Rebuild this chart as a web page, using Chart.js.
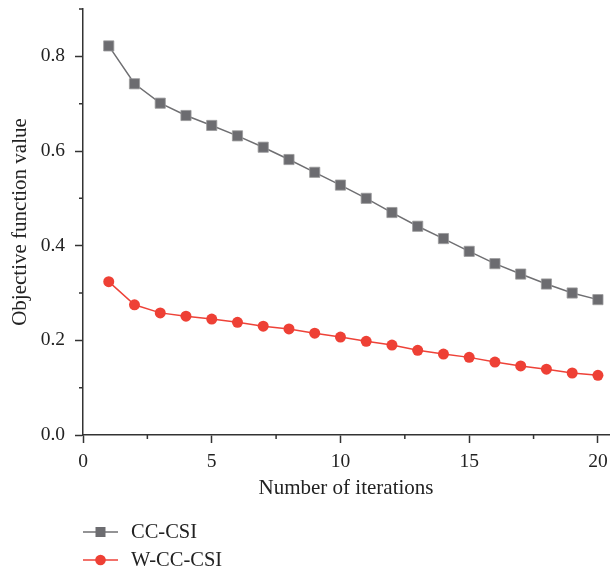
<!DOCTYPE html>
<html>
<head>
<meta charset="utf-8">
<script src="https://cdn.jsdelivr.net/npm/chart.js@4/dist/chart.umd.min.js"></script>
<style>
  html, body { margin: 0; padding: 0; background: #fff; }
  #wrap { width: 610px; height: 569px; }
</style>
</head>
<body>
<div id="wrap"><canvas id="chart"></canvas></div>
<script>
// data
const iterations = [1, 2, 3, 4, 5, 6, 7, 8, 9, 10, 11, 12, 13, 14, 15, 16, 17, 18, 19, 20];
const ccCsi = [0.822, 0.742, 0.701, 0.675, 0.654, 0.632, 0.608, 0.582, 0.555, 0.528,
               0.500, 0.470, 0.441, 0.415, 0.388, 0.362, 0.340, 0.319, 0.300, 0.286];
const wCcCsi = [0.324, 0.275, 0.258, 0.251, 0.245, 0.238, 0.230, 0.224, 0.215, 0.207,
                0.198, 0.190, 0.179, 0.171, 0.164, 0.154, 0.146, 0.139, 0.131, 0.126];
const seriesNames = ['CC-CSI', 'W-CC-CSI'];
const xMinorTicks = [2.5, 7.5, 12.5, 17.5];
const yMinorTicks = [0.1, 0.3, 0.5, 0.7, 0.9];

const FONT = "'Liberation Serif', 'DejaVu Serif', serif";
const AXIS = '#333';

function toPoints(ys) {
  return iterations.map((x, i) => ({ x: x, y: ys[i] }));
}

// small outward ticks between the labelled ones
const minorTicks = {
  id: 'minorTicks',
  afterDraw(chart) {
    const { ctx, scales: { x, y } } = chart;
    ctx.save();
    ctx.strokeStyle = AXIS;
    ctx.lineWidth = 1.5;
    ctx.beginPath();
    xMinorTicks.forEach(v => {
      const px = x.getPixelForValue(v);
      ctx.moveTo(px, x.top);
      ctx.lineTo(px, x.top + 4);
    });
    yMinorTicks.forEach(v => {
      const py = y.getPixelForValue(v);
      ctx.moveTo(y.right, py);
      ctx.lineTo(y.right - 4, py);
    });
    ctx.stroke();
    ctx.restore();
  }
};

// legend stacked in the bottom left corner
const stackedLegend = {
  id: 'stackedLegend',
  afterDraw(chart) {
    const ctx = chart.ctx;
    const rows = [532, 560];
    ctx.save();
    chart.data.datasets.forEach((ds, i) => {
      const cy = rows[i];
      ctx.strokeStyle = ds.borderColor;
      ctx.lineWidth = ds.borderWidth;
      ctx.beginPath();
      ctx.moveTo(83, cy);
      ctx.lineTo(118, cy);
      ctx.stroke();
      ctx.fillStyle = ds.pointBackgroundColor;
      ctx.beginPath();
      if (ds.pointStyle === 'rect') {
        ctx.rect(100.5 - 5, cy - 5, 10, 10);
      } else {
        ctx.arc(100.5, cy, 5.3, 0, Math.PI * 2);
      }
      ctx.fill();
      ctx.fillStyle = '#222';
      ctx.font = '20.5px ' + FONT;
      ctx.textBaseline = 'middle';
      ctx.fillText(ds.label, 131, cy + 1);
    });
    ctx.restore();
  }
};

const ctx = document.getElementById('chart').getContext('2d');
new Chart(ctx, {
  type: 'line',
  data: {
    datasets: [
      {
        label: seriesNames[0],
        data: toPoints(ccCsi),
        borderColor: '#6f6f72',
        borderWidth: 1.5,
        pointStyle: 'rect',
        pointRadius: 7.2,
        pointBackgroundColor: '#6c6c70',
        pointBorderColor: '#9a9a9c',
        pointBorderWidth: 0.8,
        tension: 0
      },
      {
        label: seriesNames[1],
        data: toPoints(wCcCsi),
        borderColor: '#ee4238',
        borderWidth: 1.5,
        pointStyle: 'circle',
        pointRadius: 5.5,
        pointBackgroundColor: '#ee4035',
        pointBorderColor: '#ee4035',
        pointBorderWidth: 0,
        tension: 0
      }
    ]
  },
  options: {
    responsive: true,
    maintainAspectRatio: false,
    animation: false,
    layout: { autoPadding: false, padding: { top: 9, right: 1, left: 0, bottom: 0 } },
    plugins: {
      legend: { display: false },
      tooltip: { enabled: false }
    },
    scales: {
      x: {
        type: 'linear',
        min: 0,
        max: 20.43,
        afterFit(scale) {
          scale.height = 134;
          scale.paddingLeft = 0;
          scale.paddingRight = 0;
        },
        border: { display: true, color: AXIS, width: 1.5 },
        grid: { drawOnChartArea: false, tickLength: 8, tickColor: AXIS, tickWidth: 1.5 },
        ticks: {
          stepSize: 5,
          includeBounds: false,
          padding: 7,
          maxRotation: 0,
          color: '#222',
          font: { family: FONT, size: 19.5 }
        },
        title: {
          display: true,
          text: 'Number of iterations',
          color: '#222',
          font: { family: FONT, size: 21 },
          padding: { top: 0, bottom: 68 }
        }
      },
      y: {
        min: 0,
        max: 0.9,
        afterFit(scale) {
          scale.width = 83;
          scale.paddingTop = 0;
          scale.paddingBottom = 0;
        },
        border: { display: true, color: AXIS, width: 1.5 },
        grid: { drawOnChartArea: false, tickLength: 8, tickColor: AXIS, tickWidth: 1.5 },
        ticks: {
          stepSize: 0.2,
          includeBounds: false,
          padding: 10,
          color: '#222',
          font: { family: FONT, size: 19.5 },
          callback: v => v.toFixed(1)
        },
        title: {
          display: true,
          text: 'Objective function value',
          color: '#222',
          font: { family: FONT, size: 21 },
          padding: { top: 8, bottom: 0 }
        }
      }
    }
  },
  plugins: [minorTicks, stackedLegend]
});
</script>
</body>
</html>
